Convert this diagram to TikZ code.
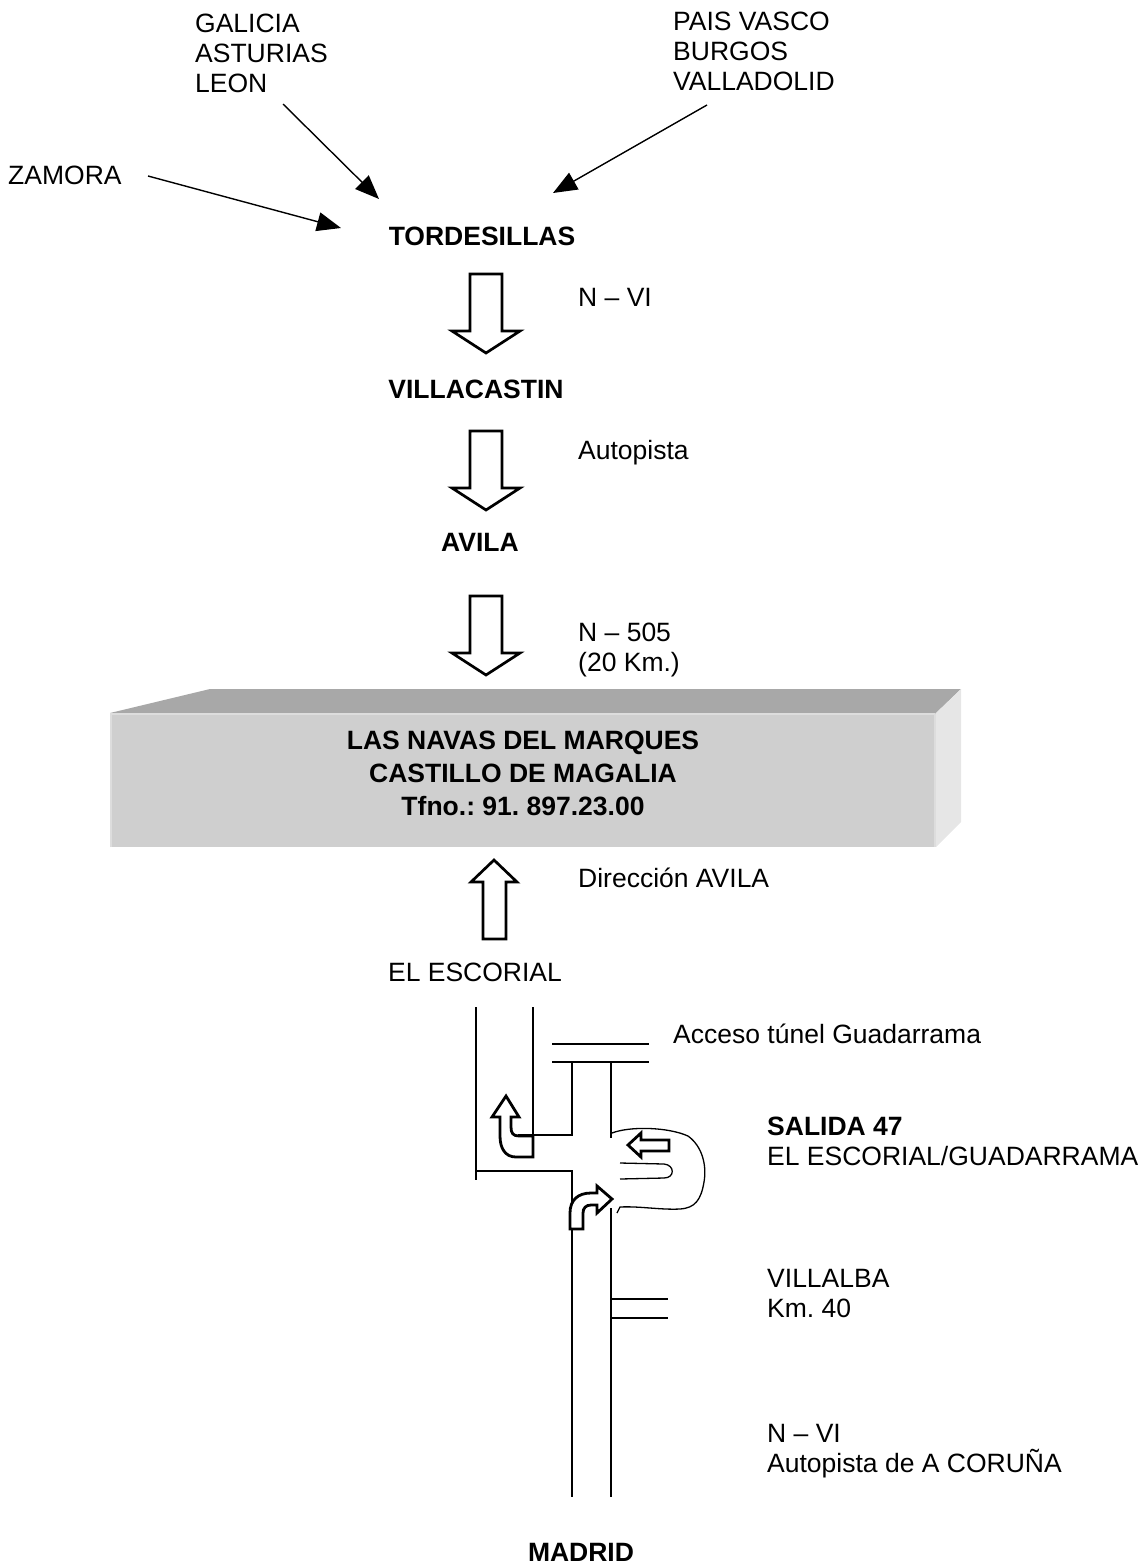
\documentclass[tikz,border=0pt]{standalone}
\usepackage{fontspec}
\setmainfont{Liberation Sans}
\usetikzlibrary{arrows.meta}
\frenchspacing

\newcommand{\mapfont}{\fontsize{26.5}{30}\selectfont}
\definecolor{boxfront}{HTML}{CFCFCF}
\definecolor{boxtop}{HTML}{A8A8A8}
\definecolor{boxside}{HTML}{E6E6E6}
\definecolor{boxedge}{HTML}{DDDDDD}

\tikzset{downarrow/.pic={\draw[bigarrow] (-16,0) -- (16,0) -- (16,57) -- (34,57) -- (0,79) -- (-34,57) -- (-16,57) -- cycle;}}

\begin{document}
\begin{tikzpicture}[x=1pt, y=-1pt, >={Triangle[length=24pt,width=19pt]},
  every node/.style={inner sep=0pt},
  place/.style={font=\mapfont, align=left},
  town/.style={font=\mapfont\bfseries},
  road/.style={line width=1.3pt},
  way/.style={->, line width=1.4pt},
  bigarrow/.style={draw, line width=2.7pt, fill=white, line join=miter},
  turnarrow/.style={draw, line width=2.8pt, fill=white}]
\useasboundingbox (0,0) rectangle (1148,1566);

% where the roads come from
\node (galicia) at (195,14) [place, anchor=north west] {GALICIA\\ASTURIAS\\LEON};
\node (paisvasco) at (673,12) [place, anchor=north west] {PAIS VASCO\\BURGOS\\VALLADOLID};
\node (zamora) at (8,184) [place, anchor=base west] {ZAMORA};
\coordinate (leon0) at (283,104);
\coordinate (leon1) at (379,199);
\coordinate (zam0) at (148,176);
\coordinate (zam1) at (341,228);
\coordinate (pais0) at (707,105);
\coordinate (pais1) at (553,193);
\draw[way] (leon0) -- (leon1);
\draw[way] (zam0) -- (zam1);
\draw[way] (pais0) -- (pais1);

% towns on the way
\node (tord) at (482,245) [town, anchor=base] {TORDESILLAS};
\node (villa) at (476,398) [town, anchor=base] {VILLACASTIN};
\node (avila) at (480,551) [town, anchor=base] {AVILA};
\pic (arr1) at (486,274) {downarrow};
\pic (arr2) at (486,431) {downarrow};
\pic (arr3) at (486,596) {downarrow};
\node (nvi) at (578,288) [place, anchor=north west] {N – VI};
\node (autopista) at (578,459) [place, anchor=base west] {Autopista};
\node (n505) at (578,623) [place, anchor=north west] {N – 505\\(20 Km.)};

% the castle box
\fill[boxtop] (110,713) -- (210,689) -- (961,689) -- (936,713) -- cycle;
\fill[boxside] (936,713) -- (961,689) -- (961,822) -- (936,847) -- cycle;
\fill[boxfront] (110,713) rectangle (936,847);
\draw[boxedge, line width=1.5pt] (110.8,847) -- (110.8,713.8) -- (935,713.8);
\draw[boxedge, line width=2pt] (935,714) -- (935,847);
\node (navas) at (523,731) [anchor=north, align=center, font=\fontsize{26.5}{33}\selectfont\bfseries] {LAS NAVAS DEL MARQUES\\CASTILLO DE MAGALIA\\Tfno.: 91. 897.23.00};

% coming from Madrid
\draw[bigarrow] (494,860) -- (517,882) -- (506,882) -- (506,939) -- (483,939) -- (483,882) -- (471,882) -- cycle;
\node (direccion) at (578,887) [place, anchor=base west] {Dirección AVILA};
\node (escorial) at (475,981) [place, anchor=base] {EL ESCORIAL};
\node (acceso) at (673,1043) [place, anchor=base west] {Acceso túnel Guadarrama};
\node (salida) at (767,1117) [place, anchor=north west] {\textbf{SALIDA 47}\\EL ESCORIAL/GUADARRAMA};
\node (villalba) at (767,1269) [place, anchor=north west] {VILLALBA\\Km. 40};
\node (coruna) at (767,1424) [place, anchor=north west] {N – VI\\Autopista de A CORUÑA};
\node (madrid) at (581,1561) [town, anchor=base] {MADRID};

% roads
\draw[road] (476,1007) -- (476,1180);
\draw[road] (476,1171) -- (572,1171) -- (572,1497);
\draw[road] (533,1007) -- (533,1136);
\draw[road] (518,1135) -- (572,1135) -- (572,1062);
\draw[road] (611,1062) -- (611,1138);
\draw[road] (552,1044) -- (649,1044);
\draw[road] (552,1062) -- (649,1062);
\draw[road] (611,1208) -- (611,1497);
\draw[road] (611,1299) -- (668,1299);
\draw[road] (611,1318) -- (668,1318);
\draw[road] (612,1133) .. controls (630,1126) and (668,1127) .. (688,1136) .. controls (702,1146) and (707,1165) .. (704,1182) .. controls (701,1200) and (695,1208) .. (680,1209) .. controls (660,1210) and (640,1206) .. (620,1207) -- (617,1213);
\draw[road] (620,1163) -- (664,1164) .. controls (675,1165) and (675,1178) .. (664,1178) -- (620,1179);

% turn arrows
\draw[turnarrow] (628,1145) -- (641,1133) -- (641,1140) -- (669,1140) -- (669,1151) -- (641,1151) -- (641,1157) -- cycle;
\draw[turnarrow] (506,1096) -- (519,1117) -- (511,1117) -- (511,1127) .. controls (511,1133) and (513,1136) .. (519,1136) -- (533,1136) -- (533,1157) -- (516,1157) .. controls (505,1157) and (500,1148) .. (500,1136) -- (500,1117) -- (492,1117) -- cycle;
\draw[turnarrow] (612,1199) -- (597,1213) -- (597,1205) -- (591,1205) .. controls (586,1205) and (583,1208) .. (583,1213) -- (583,1229) -- (570,1229) -- (570,1213) .. controls (570,1200) and (578,1193) .. (591,1193) -- (597,1193) -- (597,1186) -- cycle;
\end{tikzpicture}
\end{document}
